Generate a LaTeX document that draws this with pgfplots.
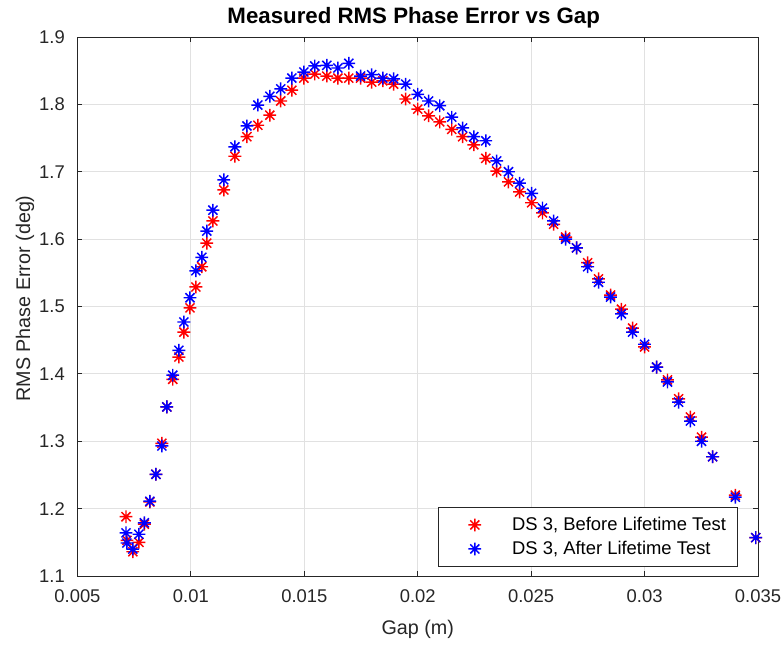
\documentclass[border=0pt]{standalone}
\usepackage{fontspec}
\setmainfont{Liberation Sans}
\usepackage{pgfplots}
\pgfplotsset{compat=1.18}
\definecolor{axgray}{rgb}{0.15,0.15,0.15}
\definecolor{gridgray}{RGB}{225,225,225}
\pgfdeclareplotmark{mstar}{%
  \pgfpathmoveto{\pgfqpoint{-\pgfplotmarksize}{0pt}}\pgfpathlineto{\pgfqpoint{\pgfplotmarksize}{0pt}}%
  \pgfpathmoveto{\pgfqpoint{0pt}{-\pgfplotmarksize}}\pgfpathlineto{\pgfqpoint{0pt}{\pgfplotmarksize}}%
  \pgfpathmoveto{\pgfqpoint{-0.7071\pgfplotmarksize}{-0.7071\pgfplotmarksize}}\pgfpathlineto{\pgfqpoint{0.7071\pgfplotmarksize}{0.7071\pgfplotmarksize}}%
  \pgfpathmoveto{\pgfqpoint{-0.7071\pgfplotmarksize}{0.7071\pgfplotmarksize}}\pgfpathlineto{\pgfqpoint{0.7071\pgfplotmarksize}{-0.7071\pgfplotmarksize}}%
  \pgfusepathqstroke}
\begin{document}
\begin{tikzpicture}
\path[use as bounding box] (-58.1pt,-51pt) rectangle (529.9pt,432pt);
\begin{axis}[
  scale only axis,
  width=510.4pt, height=404.25pt,
  xmin=0.005, xmax=0.035, ymin=1.1, ymax=1.9,
  xtick={0.005,0.01,0.015,0.02,0.025,0.03,0.035},
  xticklabels={0.005,0.01,0.015,0.02,0.025,0.03,0.035},
  ytick={1.1,1.2,1.3,1.4,1.5,1.6,1.7,1.8,1.9},
  yticklabels={1.1,1.2,1.3,1.4,1.5,1.6,1.7,1.8,1.9},
  scaled x ticks=false,
  tick pos=both, tick align=inside,
  major tick length=3.75pt,
  every tick/.style={axgray, line width=0.6pt},
  axis line style={axgray, line width=0.75pt},
  grid=major,
  major grid style={gridgray, line width=0.75pt},
  ticklabel style={font=\fontsize{13.8pt}{16pt}\selectfont, text=axgray},
  xticklabel style={yshift=-7pt},
  yticklabel style={xshift=-6pt},
  xlabel={Gap (m)},
  ylabel={RMS Phase Error (deg)},
  label style={font=\fontsize{14.8pt}{17pt}\selectfont, text=axgray},
  xlabel style={at={(axis description cs:0.5,0)}, anchor=base, yshift=-43.5pt},
  ylabel style={at={(axis description cs:0,0.5)}, anchor=base, yshift=35.5pt, xshift=6pt},
  title={\bfseries Measured RMS Phase Error vs Gap},
  title style={font=\fontsize{16.7pt}{19pt}\selectfont, at={(axis description cs:0.5,1)}, anchor=base, yshift=4.5pt, xshift=-3pt},
  legend style={at={(axis description cs:1,0)}, anchor=south east, xshift=-15pt, yshift=6.75pt,
    draw=axgray, line width=0.6pt, fill=white,
    font=\fontsize{13.8pt}{16pt}\selectfont,
    inner xsep=6.75pt, inner ysep=5.5pt, row sep=2.5pt,
    /tikz/every odd column/.append style={column sep=13.5pt}},
  legend cell align=left,
  legend image code/.code={\path (-20.25pt,0) (12pt,0); \draw[#1] plot coordinates {(0pt,0pt)};},
]
\addplot[only marks, mark=mstar, mark size=4.8pt, red, line width=1.1pt] coordinates {
(0.00714,1.188) (0.00718,1.153) (0.00744,1.136) (0.00771,1.150) (0.00795,1.177)
(0.00819,1.210) (0.00846,1.251) (0.00872,1.297) (0.00894,1.351) (0.00920,1.392)
(0.00947,1.425) (0.00969,1.462) (0.00996,1.498) (0.01022,1.529) (0.01048,1.559)
(0.01070,1.594) (0.01097,1.627) (0.01145,1.673) (0.01194,1.723) (0.01247,1.752)
(0.01295,1.769) (0.01348,1.784) (0.01396,1.805) (0.01445,1.821) (0.01498,1.839)
(0.01546,1.845) (0.01599,1.842) (0.01648,1.839) (0.01696,1.839) (0.01748,1.839)
(0.01797,1.833) (0.01846,1.835) (0.01894,1.830) (0.01947,1.808) (0.02000,1.793)
(0.02048,1.783) (0.02097,1.774) (0.02150,1.763) (0.02198,1.752) (0.02247,1.740)
(0.02300,1.720) (0.02348,1.701) (0.02400,1.685) (0.02449,1.670) (0.02502,1.654)
(0.02550,1.639) (0.02599,1.622) (0.02652,1.603) (0.02700,1.587) (0.02749,1.565)
(0.02797,1.541) (0.02850,1.517) (0.02898,1.496) (0.02947,1.468) (0.03000,1.440)
(0.03053,1.410) (0.03101,1.391) (0.03150,1.363) (0.03202,1.336) (0.03251,1.306)
(0.03300,1.277) (0.03400,1.220) (0.03490,1.157)
};
\addlegendentry{DS 3, Before Lifetime Test}
\addplot[only marks, mark=mstar, mark size=4.8pt, blue, line width=1.1pt] coordinates {
(0.00714,1.164) (0.00718,1.149) (0.00744,1.140) (0.00771,1.162) (0.00795,1.179)
(0.00819,1.211) (0.00846,1.251) (0.00872,1.293) (0.00894,1.351) (0.00920,1.398)
(0.00947,1.435) (0.00969,1.477) (0.00996,1.513) (0.01022,1.553) (0.01048,1.573)
(0.01070,1.612) (0.01097,1.643) (0.01145,1.688) (0.01194,1.737) (0.01247,1.768)
(0.01295,1.799) (0.01348,1.812) (0.01396,1.823) (0.01445,1.839) (0.01498,1.848)
(0.01546,1.857) (0.01599,1.858) (0.01648,1.854) (0.01696,1.861) (0.01748,1.842)
(0.01797,1.844) (0.01846,1.839) (0.01894,1.838) (0.01947,1.830) (0.02000,1.815)
(0.02048,1.805) (0.02097,1.798) (0.02150,1.781) (0.02198,1.765) (0.02247,1.752)
(0.02300,1.746) (0.02348,1.716) (0.02400,1.700) (0.02449,1.683) (0.02502,1.668)
(0.02550,1.646) (0.02599,1.627) (0.02652,1.600) (0.02700,1.587) (0.02749,1.559)
(0.02797,1.536) (0.02850,1.514) (0.02898,1.489) (0.02947,1.462) (0.03000,1.444)
(0.03053,1.410) (0.03101,1.388) (0.03150,1.358) (0.03202,1.330) (0.03251,1.300)
(0.03300,1.277) (0.03400,1.217) (0.03490,1.157)
};
\addlegendentry{DS 3, After Lifetime Test}
\end{axis}
\end{tikzpicture}
\end{document}
